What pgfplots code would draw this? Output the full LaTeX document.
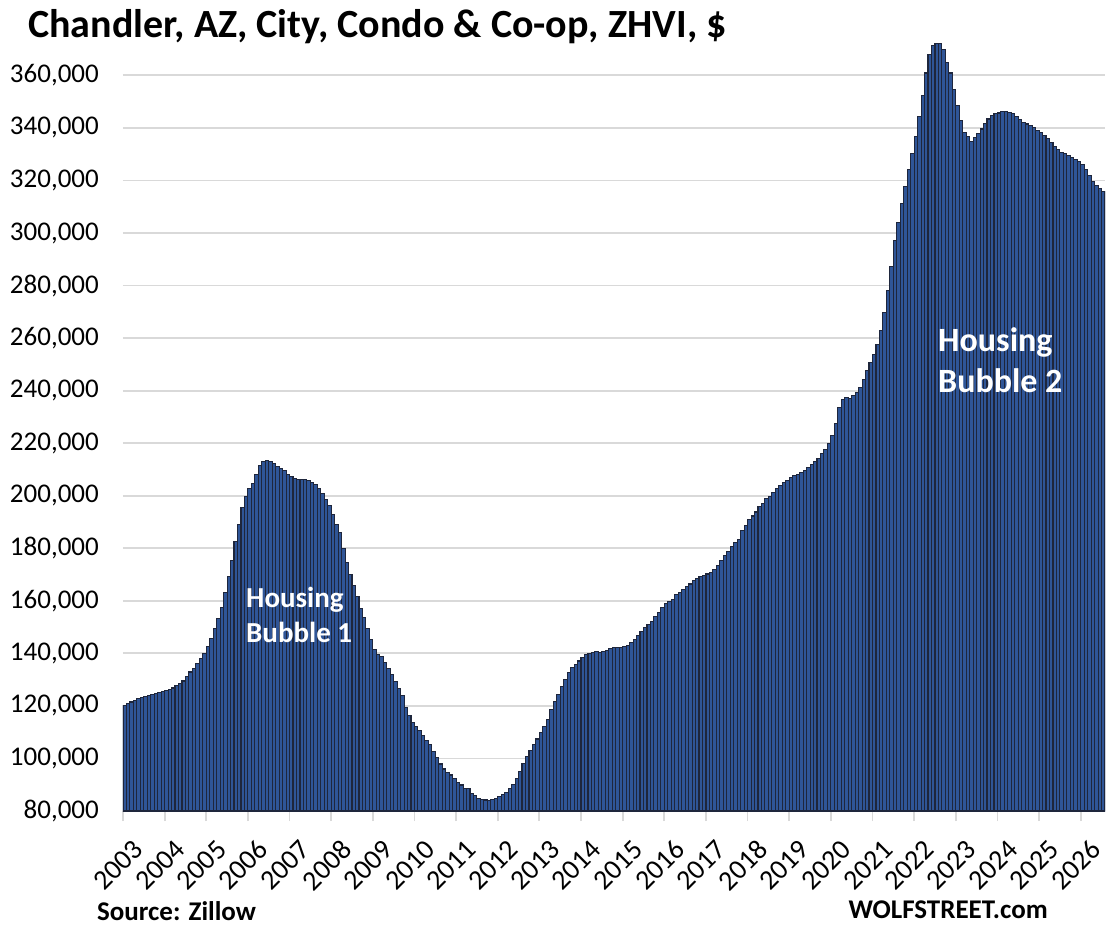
\documentclass[border=0pt]{standalone}
\usepackage{pgfplots}
\pgfplotsset{compat=1.18}
\usepackage{fontspec}
\setmainfont{Carlito}
\definecolor{barfill}{RGB}{47,85,151}
\definecolor{bardraw}{RGB}{30,38,60}
\definecolor{gridc}{RGB}{217,217,217}
\begin{document}
\begin{tikzpicture}
\useasboundingbox (-123bp,-118bp) rectangle (987bp,811bp);
\begin{axis}[
  at={(0,0)}, anchor=south west,
  scale only axis, width=982bp, height=775bp,
  xmin=-0.5, xmax=282.5, ymin=80000, ymax=375000,
  ybar, bar width=1, bar shift=0,
  axis lines*=left,
  y axis line style={draw=none},
  x axis line style={draw=gridc, line width=1.8bp},
  ytick={80000,100000,...,360000},
  ymajorgrids, grid style={draw=gridc, line width=1.8bp},
  ytick style={draw=none},
  scaled y ticks=false,
  /pgf/number format/assume math mode=true,
  yticklabel style={/pgf/number format/fixed, /pgf/number format/1000 sep={,}, font=\fontsize{27bp}{30bp}\selectfont, inner sep=0pt, anchor=east, xshift=-24bp},
  xtick={-0.5,11.5,23.5,35.5,47.5,59.5,71.5,83.5,95.5,107.5,119.5,131.5,143.5,155.5,167.5,179.5,191.5,203.5,215.5,227.5,239.5,251.5,263.5,275.5},
  xticklabels={2003,2004,2005,2006,2007,2008,2009,2010,2011,2012,2013,2014,2015,2016,2017,2018,2019,2020,2021,2022,2023,2024,2025,2026},
  xtick align=outside, major tick length=10bp,
  xtick style={draw=gridc, line width=1.8bp},
  xticklabel style={rotate=45, anchor=east, inner sep=0pt, font=\fontsize{28bp}{31bp}\selectfont, xshift=-6bp, yshift=-28bp},
  clip=true,
]
\addplot[fill=barfill, draw=bardraw, line width=1.1bp] coordinates {
(0,120200)(1,120900)(2,121500)(3,122000)(4,122800)(5,123300)(6,123700)(7,123900)(8,124300)(9,124700)
(10,125100)(11,125600)(12,125700)(13,126300)(14,126800)(15,127600)(16,128500)(17,129500)(18,131100)(19,132900)
(20,134400)(21,136200)(22,138000)(23,139900)(24,142600)(25,145800)(26,149300)(27,153200)(28,157500)(29,163000)
(30,169400)(31,175300)(32,182500)(33,188900)(34,195600)(35,199700)(36,202800)(37,204700)(38,208200)(39,211400)
(40,212900)(41,213500)(42,213200)(43,212400)(44,211100)(45,210400)(46,209500)(47,208200)(48,207300)(49,206600)
(50,206100)(51,206100)(52,206200)(53,205900)(54,205100)(55,204400)(56,202800)(57,200900)(58,198500)(59,196200)
(60,193000)(61,189200)(62,186100)(63,180000)(64,174500)(65,170000)(66,166000)(67,161600)(68,157100)(69,153700)
(70,149500)(71,145400)(72,141600)(73,139500)(74,138700)(75,136500)(76,134300)(77,132000)(78,129200)(79,126700)
(80,123900)(81,119400)(82,116300)(83,113700)(84,112100)(85,110600)(86,108600)(87,106700)(88,105200)(89,102600)
(90,100400)(91,97900)(92,96000)(93,94700)(94,93700)(95,92400)(96,90900)(97,89900)(98,88600)(99,88400)
(100,86800)(101,85800)(102,84800)(103,84300)(104,84200)(105,84000)(106,84300)(107,84800)(108,85600)(109,86200)
(110,87100)(111,88400)(112,90100)(113,92200)(114,95200)(115,98100)(116,100800)(117,103100)(118,105300)(119,107400)
(120,109900)(121,112200)(122,115000)(123,118500)(124,121600)(125,124500)(126,127400)(127,130200)(128,132700)(129,134600)
(130,135600)(131,137100)(132,138400)(133,139400)(134,140000)(135,140400)(136,140600)(137,140400)(138,140600)(139,141000)
(140,141900)(141,142400)(142,142400)(143,142400)(144,142600)(145,143100)(146,144000)(147,145400)(148,146900)(149,148400)
(150,149900)(151,151000)(152,152200)(153,153900)(154,155500)(155,157600)(156,158900)(157,159800)(158,160500)(159,162300)
(160,163300)(161,164300)(162,165300)(163,166400)(164,167700)(165,168600)(166,169200)(167,169600)(168,170200)(169,170900)
(170,171900)(171,173400)(172,175300)(173,177200)(174,178800)(175,180600)(176,182200)(177,183500)(178,186900)(179,188800)
(180,190800)(181,192300)(182,193800)(183,195800)(184,197100)(185,198800)(186,199800)(187,201100)(188,202600)(189,203900)
(190,205100)(191,205900)(192,206800)(193,207700)(194,208000)(195,208900)(196,209700)(197,210900)(198,211800)(199,213100)
(200,214300)(201,216000)(202,217700)(203,220000)(204,223000)(205,227500)(206,233600)(207,236800)(208,237400)(209,237000)
(210,238100)(211,239300)(212,241200)(213,244400)(214,247600)(215,250700)(216,253900)(217,257700)(218,262800)(219,269700)
(220,278000)(221,287200)(222,297000)(223,303900)(224,311300)(225,317800)(226,324200)(227,330200)(228,336600)(229,344200)
(230,352300)(231,360900)(232,367800)(233,371300)(234,372000)(235,372000)(236,369700)(237,365000)(238,360900)(239,354600)
(240,348500)(241,342900)(242,338100)(243,336600)(244,334900)(245,336200)(246,337800)(247,339600)(248,341600)(249,343400)
(250,344700)(251,345400)(252,345700)(253,346100)(254,346300)(255,345900)(256,345400)(257,344200)(258,343200)(259,342200)
(260,341500)(261,340900)(262,340000)(263,339100)(264,338100)(265,337100)(266,336100)(267,334600)(268,333000)(269,331800)
(270,330800)(271,330200)(272,329500)(273,328600)(274,328000)(275,327300)(276,326100)(277,324200)(278,321900)(279,319700)
(280,318100)(281,316800)(282,315900)
};
\end{axis}
\node[anchor=base west, inner sep=0pt, font=\bfseries\fontsize{40bp}{43bp}\selectfont] at (-95bp,773bp) {Chandler, AZ, City, Condo \& Co-op, ZHVI, \$};
\node[anchor=base west, inner sep=0pt, text=white, font=\bfseries\fontsize{29bp}{32bp}\selectfont] at (123bp,203bp) {Housing};
\node[anchor=base west, inner sep=0pt, text=white, font=\bfseries\fontsize{29bp}{32bp}\selectfont] at (123bp,168bp) {Bubble 1};
\node[anchor=base west, inner sep=0pt, text=white, font=\bfseries\fontsize{34bp}{38bp}\selectfont] at (815bp,459bp) {Housing};
\node[anchor=base west, inner sep=0pt, text=white, font=\bfseries\fontsize{34bp}{38bp}\selectfont] at (815bp,418bp) {Bubble 2};
\node[anchor=base west, inner sep=0pt, font=\bfseries\fontsize{27bp}{30bp}\selectfont] at (-26bp,-109bp) {Source: Zillow};
\node[anchor=base east, inner sep=0pt, font=\bfseries\fontsize{27bp}{30bp}\selectfont] at (925bp,-107bp) {WOLFSTREET.com};
\end{tikzpicture}
\end{document}
